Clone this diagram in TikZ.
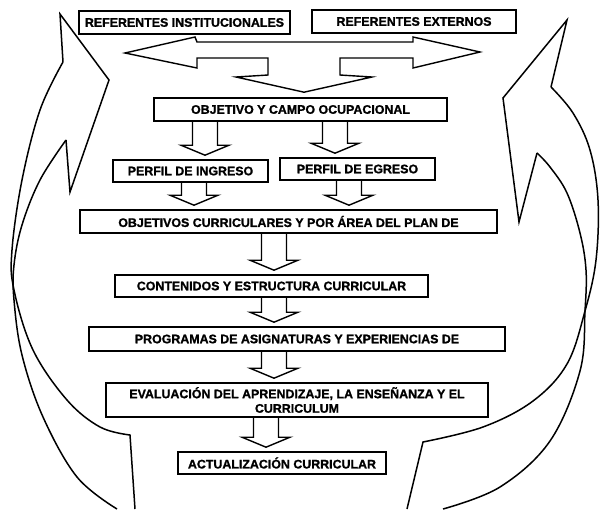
\documentclass[tikz,border=0pt]{standalone}
\usepackage{fontspec}
\setmainfont[BoldFeatures={FakeBold=1.2}]{Liberation Sans}
\usetikzlibrary{calc}
\usetikzlibrary{positioning}
\tikzset{
    mybox/.style = {rectangle, line width=1.6pt, draw=black, align=center, fill=white, font=\bfseries\fontsize{12.4}{14.5}\selectfont, text=black, inner sep=0pt},
    edgen/.style = {-, line width=1.4pt, black, line join=miter},
    edgec/.style = {-, line width=1.5pt, black, line join=miter}, % loops
}
% hollow arrow from box #1 down to box #2, centred at x=#3
\newcommand{\blockdown}[3]{%
  \draw[edgen] let \p1=(#1.south), \p2=(#2.north) in
    (#3pt-12.5pt,\y1) -- (#3pt-12.5pt,\y2+14pt) -- (#3pt-24pt,\y2+14pt)
    -- (#3pt,\y2+4pt) -- (#3pt+24pt,\y2+14pt) -- (#3pt+12.5pt,\y2+14pt) -- (#3pt+12.5pt,\y1);
}

\begin{document}
\begin{tikzpicture}[x=1pt, y=-1pt]
  \useasboundingbox (0,0) rectangle (600,509);
  \node[mybox, minimum width=211pt, minimum height=23pt] (ri) at (184.5,22.5) {REFERENTES INSTITUCIONALES};
  \node[mybox, minimum width=204pt, minimum height=23pt] (re) at (414,21.5) {REFERENTES EXTERNOS};
  \node[mybox, minimum width=293pt, minimum height=23pt] (obj) at (300.5,109.5) {OBJETIVO Y CAMPO OCUPACIONAL};
  \node[mybox, minimum width=155pt, minimum height=22pt] (ing) at (190.5,171) {PERFIL DE INGRESO};
  \node[mybox, minimum width=155pt, minimum height=22pt] (egr) at (357.5,169) {PERFIL DE EGRESO};
  \node[mybox, minimum width=417pt, minimum height=23pt] (cur) at (288.5,221.5) {OBJETIVOS CURRICULARES Y POR ÁREA DEL PLAN DE};
  \node[mybox, minimum width=313pt, minimum height=22pt] (con) at (271.5,286) {CONTENIDOS Y ESTRUCTURA CURRICULAR};
  \node[mybox, minimum width=416pt, minimum height=24pt] (pro) at (297,339) {PROGRAMAS DE ASIGNATURAS Y EXPERIENCIAS DE};
  \node[mybox, minimum width=382pt, minimum height=34pt] (eva) at (297,400) {EVALUACIÓN DEL APRENDIZAJE, LA ENSEÑANZA Y EL\\CURRICULUM};
  \node[mybox, minimum width=208pt, minimum height=22pt] (act) at (282,463) {ACTUALIZACIÓN CURRICULAR};

  % referentes -> objetivo
  \draw[edgen] (125,53) -- (195,37) -- (197,42) -- (413,42) -- (413,37) -- (480,52)
    -- (413,68) -- (413,58) -- (340,58) -- (340,75) -- (372,77) -- ([xshift=3.5pt,yshift=5pt]obj.north)
    -- (236,77) -- (268,75) -- (268,58) -- (197,58) -- (197,68) -- cycle;

  \blockdown{obj}{ing}{205}
  \blockdown{obj}{egr}{335}
  \blockdown{ing}{cur}{194}
  \blockdown{egr}{cur}{349}
  \blockdown{cur}{con}{274}
  \blockdown{con}{pro}{274}
  \blockdown{pro}{eva}{274}
  \blockdown{eva}{act}{266}

  % left loop
  \draw[edgec] (63,62) -- (60,14) -- (109,80) -- (70,192) -- (66,140);
  \draw[edgec] plot[smooth, tension=0.6] coordinates {(63,62) (40,110) (22,180) (12,250) (14,290) (33,350) (67,400) (100,427) (130,435)} -- (135,509);
  \draw[edgec] plot[smooth, tension=0.6] coordinates {(66,140) (40,180) (22,225) (14,265) (14,300) (22,355) (43,417) (77,477) (117,509)};
  % right loop
  \draw[edgec] (551,87) -- (567,20) -- (503,98) -- (519,222) -- (537,153);
  \draw[edgec] plot[smooth, tension=0.6] coordinates {(551,87) (573,113) (590,150) (598,200) (596,260) (585,311) (567,364) (533,401) (483,427) (423,442)} -- (407,509);
  \draw[edgec] plot[smooth, tension=0.6] coordinates {(537,153) (550,167) (567,193) (580,233) (586,270) (585,311) (580,371) (550,441) (500,487) (443,509)};
\end{tikzpicture}
\end{document}
